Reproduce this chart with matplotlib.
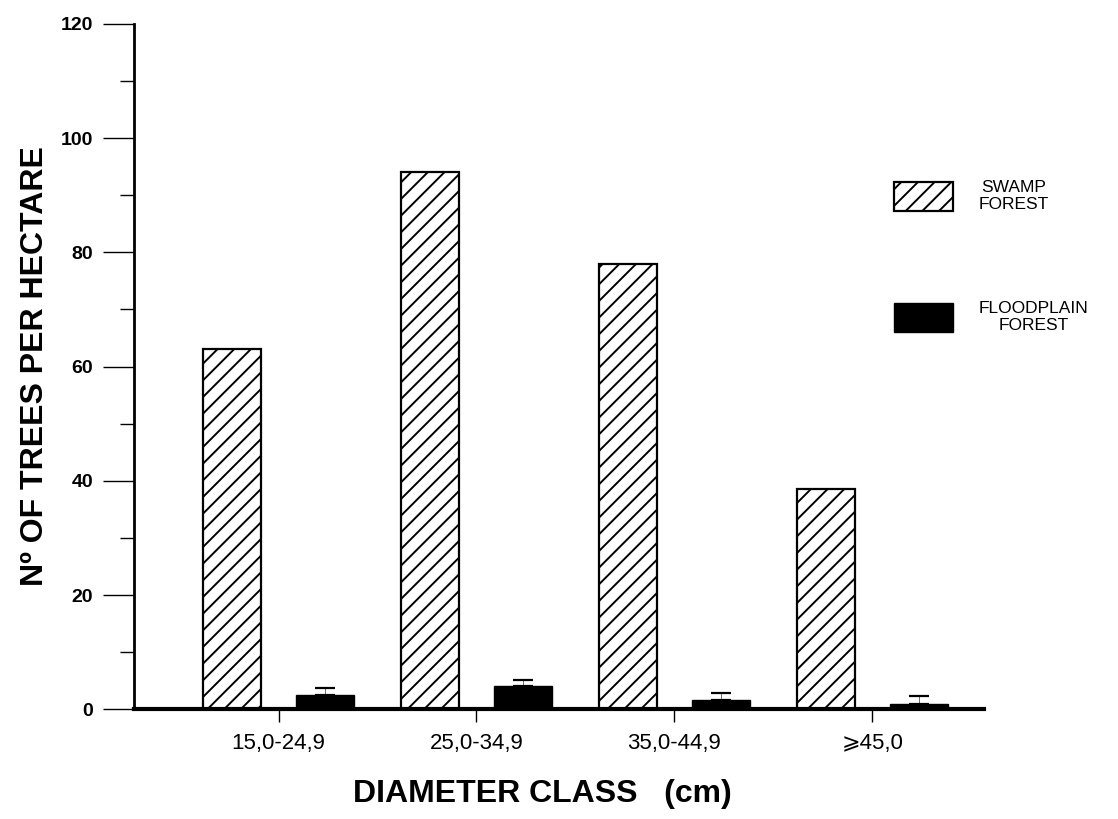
import numpy as np
import matplotlib
matplotlib.use('Agg')
import matplotlib.pyplot as plt
from matplotlib.patches import Patch
from matplotlib.ticker import MultipleLocator

plt.rcParams['font.family'] = ['Liberation Sans', 'DejaVu Sans']
plt.rcParams['hatch.linewidth'] = 1.4

# data
classes = ['15,0-24,9', '25,0-34,9', '35,0-44,9', '\u2a7e45,0']
swamp = [63, 94, 78, 38.5]
floodplain = [2.5, 4.0, 1.6, 1.0]
floodplain_err = [1.2, 1.1, 1.2, 1.4]

fig = plt.figure(figsize=(11.18, 8.19), dpi=100)
ax = fig.add_axes([0.1195, 0.134, 0.761, 0.837])

x = np.arange(len(classes))
w = 0.29
off = 0.235
ax.bar(x - off, swamp, w, color='white', edgecolor='black', lw=1.6,
       hatch='//', zorder=2)
ax.bar(x + off, floodplain, w, color='black', edgecolor='black', lw=1,
       zorder=2)
# only the upper half of the error bar shows in the original
ax.errorbar(x + off, floodplain,
            yerr=[np.zeros(len(floodplain)), floodplain_err],
            fmt='none', ecolor='black', elinewidth=0.4, capsize=7,
            capthick=1.6, zorder=3)

ax.set_xlim(-0.732, 3.566)
ax.set_ylim(0, 120)
ax.set_xticks(x)
ax.set_xticklabels(classes, fontsize=16)
ax.yaxis.set_major_locator(MultipleLocator(20))
ax.yaxis.set_minor_locator(MultipleLocator(10))
ax.tick_params(axis='y', which='major', length=22, width=1, pad=7,
               labelsize=14)
ax.tick_params(axis='y', which='minor', length=10, width=1)
ax.tick_params(axis='x', length=9, width=1, pad=8)
for t in ax.get_yticklabels():
    t.set_fontweight('bold')

for s in ['top', 'right']:
    ax.spines[s].set_visible(False)
ax.spines['left'].set_linewidth(2)
ax.spines['bottom'].set_linewidth(3)

ax.set_ylabel('N\u00ba OF TREES PER HECTARE', fontsize=23, fontweight='bold',
              labelpad=8)
ax.set_xlabel('DIAMETER CLASS   (cm)', fontsize=23, fontweight='bold',
              labelpad=18)
ax.xaxis.label.set_x(0.48)

handles = [Patch(facecolor='white', edgecolor='black', hatch='//', lw=1.6),
           Patch(facecolor='black', edgecolor='black')]
leg = ax.legend(handles, ['SWAMP\nFOREST', 'FLOODPLAIN\nFOREST'],
                loc='upper left', bbox_to_anchor=(0.875, 0.795),
                frameon=False, fontsize=12.5, handlelength=3.4,
                handleheight=2.2, labelspacing=5.1, handletextpad=1.5)
for t in leg.get_texts():
    t.set_multialignment('center')

fig.savefig('out.png', dpi=100)
